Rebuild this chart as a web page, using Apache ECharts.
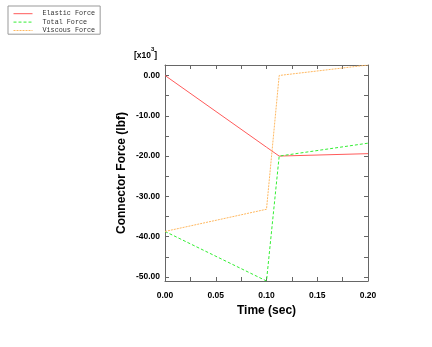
<!DOCTYPE html>
<html><head><meta charset="utf-8">
<script src="https://cdn.jsdelivr.net/npm/echarts@6/dist/echarts.min.js"></script>
<style>html,body{margin:0;padding:0;background:#fff}#c{width:432px;height:347px}</style>
</head><body><div id="c"></div>
<script>
const times = [0, 0.1, 0.1125, 0.2];
const elastic = [0, -17.8, -20.0, -19.4];
const total = [-38.7, -51.0, -20.0, -16.8];
const viscous = [-38.7, -33.2, 0.0, 2.6];
const seriesNames = ['Elastic Force', 'Total Force', 'Viscous Force'];
const xTicks = [0, 0.025, 0.05, 0.075, 0.1, 0.125, 0.15, 0.175, 0.2];
const xLabels = [0, 0.05, 0.1, 0.15, 0.2];
const yTicks = [-50, -45, -40, -35, -30, -25, -20, -15, -10, -5, 0];
const yLabels = [-50, -40, -30, -20, -10, 0];

const pairs = v => times.map((t, i) => [t, v[i]]);
const axisCol = '#666';
const lblFont = {fontFamily: 'Liberation Sans', fontWeight: 'bold', fontSize: 8.5, color: '#000'};
const tickCfg = vals => ({show: true, inside: true, length: 4, customValues: vals, lineStyle: {color: axisCol}});
const lineCfg = {show: true, onZero: false, lineStyle: {color: axisCol}};

const chart = echarts.init(document.getElementById('c'));
chart.setOption({
  animation: false,
  grid: {left: 165, top: 65, right: 64, bottom: 66, containLabel: false},
  legend: {
    left: 8, top: 6, orient: 'vertical',
    padding: [4, 5, 0, 5], itemGap: 1, itemWidth: 19, itemHeight: 7,
    borderColor: '#999', borderWidth: 1,
    data: seriesNames,
    itemStyle: {opacity: 0},
    lineStyle: {width: 1},
    textStyle: {fontFamily: 'Liberation Mono', fontSize: 6.75, color: '#333', lineHeight: 7.4, padding: [0, 0, 0, 5]}
  },
  xAxis: [
    {type: 'value', min: 0, max: 0.2, position: 'bottom',
     axisLine: lineCfg, axisTick: tickCfg(xTicks), splitLine: {show: false},
     axisLabel: Object.assign({customValues: xLabels, margin: 10, formatter: v => v.toFixed(2)}, lblFont),
     name: 'Time (sec)', nameLocation: 'middle', nameGap: 22,
     nameTextStyle: {fontFamily: 'Liberation Sans', fontWeight: 'bold', fontSize: 12, color: '#000'}},
    {type: 'value', min: 0, max: 0.2, position: 'top',
     axisLine: lineCfg, axisTick: tickCfg(xTicks), splitLine: {show: false},
     axisLabel: {show: false}}
  ],
  yAxis: [
    {type: 'value', min: -51, max: 2.6, position: 'left',
     axisLine: lineCfg, axisTick: tickCfg(yTicks), splitLine: {show: false},
     axisLabel: Object.assign({customValues: yLabels, margin: 5, formatter: v => v.toFixed(2)}, lblFont),
     name: 'Connector Force (lbf)', nameLocation: 'middle', nameGap: 37,
     nameTextStyle: {fontFamily: 'Liberation Sans', fontWeight: 'bold', fontSize: 12, color: '#000'}},
    {type: 'value', min: -51, max: 2.6, position: 'right',
     axisLine: lineCfg, axisTick: tickCfg(yTicks), splitLine: {show: false},
     axisLabel: {show: false}}
  ],
  graphic: [{
    type: 'text', left: 134, top: 46,
    style: {
      text: '{a|[x10}{b|3}{a|]}',
      rich: {
        a: {fontFamily: 'Liberation Sans', fontWeight: 'bold', fontSize: 8.5, fill: '#000', lineHeight: 14, verticalAlign: 'bottom'},
        b: {fontFamily: 'Liberation Sans', fontWeight: 'bold', fontSize: 6, fill: '#000', lineHeight: 8, verticalAlign: 'top'}
      }
    }
  }],
  series: [
    {name: seriesNames[0], type: 'line', data: pairs(elastic), symbol: 'none', color: '#ff5a5a',
     lineStyle: {width: 1, type: 'solid', color: '#ff5a5a'}},
    {name: seriesNames[1], type: 'line', data: pairs(total), symbol: 'none', color: '#33ee33',
     lineStyle: {width: 1, type: [3, 2], color: '#33ee33'}},
    {name: seriesNames[2], type: 'line', data: pairs(viscous), symbol: 'none', color: '#ffb860',
     lineStyle: {width: 1, type: [2, 1], color: '#ffb860'}}
  ]
});
</script></body></html>
